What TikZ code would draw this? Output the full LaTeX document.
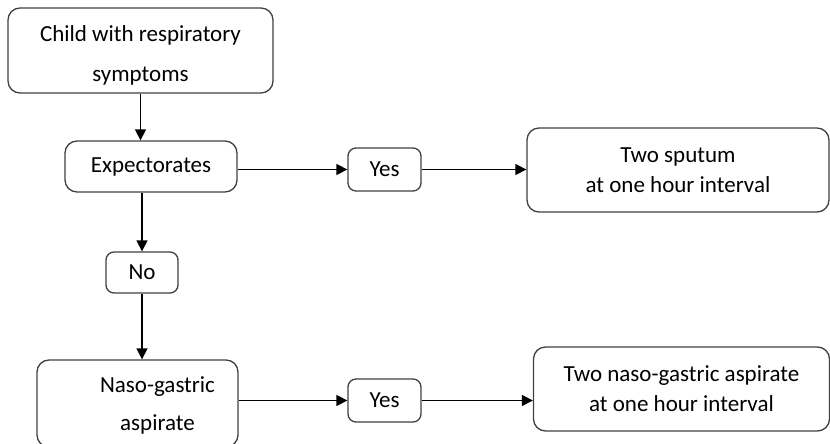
\documentclass[tikz,border=0pt]{standalone}
\usepackage{fontspec}
\setmainfont{Carlito}
\usetikzlibrary{arrows.meta}

\begin{document}
\begin{tikzpicture}[x=1pt, y=-1pt,
    box/.style={draw=black!75, line width=1.3pt, rounded corners=12pt,
        align=center, inner sep=0pt, font=\fontsize{23}{28}\selectfont},
    smallbox/.style={box, rounded corners=8pt},
    boxtext/.style={align=center, font=\fontsize{23}{28}\selectfont},
    arr/.style={line width=1.4pt, -{Triangle[length=11pt,width=11pt]}}]
    \clip (0,0) rectangle (830,444);
    \useasboundingbox (0,0) rectangle (830,444);

    \node[box, minimum width=265pt, minimum height=85pt,
        label={[boxtext, yshift=-5pt]center:Child with respiratory\\[12pt]symptoms}] (child)
        at (140.5,50.5) {};
    \node[box, minimum width=172pt, minimum height=51pt] (expect)
        at (151,166.5) {Expectorates};
    \node[smallbox, minimum width=73pt, minimum height=43pt] (yes-1)
        at (384.5,169.5) {Yes};
    \node[box, minimum width=302pt, minimum height=84pt] (sputum)
        at (678,170) {Two sputum\\[2pt]at one hour interval};
    \node[smallbox, minimum width=72pt, minimum height=41pt] (no)
        at (142,272.5) {No};
    \node[box, minimum width=201pt, minimum height=87pt,
        label={[boxtext, xshift=20pt, yshift=-2pt]center:Naso-gastric\\[10pt]aspirate}] (naso)
        at (137.5,403.5) {};
    \node[smallbox, minimum width=73pt, minimum height=43pt] (yes-2)
        at (384.5,400.5) {Yes};
    \node[box, minimum width=296pt, minimum height=84pt] (aspirate)
        at (681.5,389) {Two naso-gastric aspirate\\[2pt]at one hour interval};

    \draw[arr] (child.south) -- (child.south |- expect.north);
    \draw[arr] (expect.east |- yes-1.west) -- (yes-1.west);
    \draw[arr] (yes-1.east) -- (yes-1.east -| sputum.west);
    \draw[arr] (expect.south -| no.north) -- (no.north);
    \draw[arr] (no.south) -- (no.south |- naso.north);
    \draw[arr] (naso.east |- yes-2.west) -- (yes-2.west);
    \draw[arr] (yes-2.east) -- (yes-2.east -| aspirate.west);
\end{tikzpicture}
\end{document}
